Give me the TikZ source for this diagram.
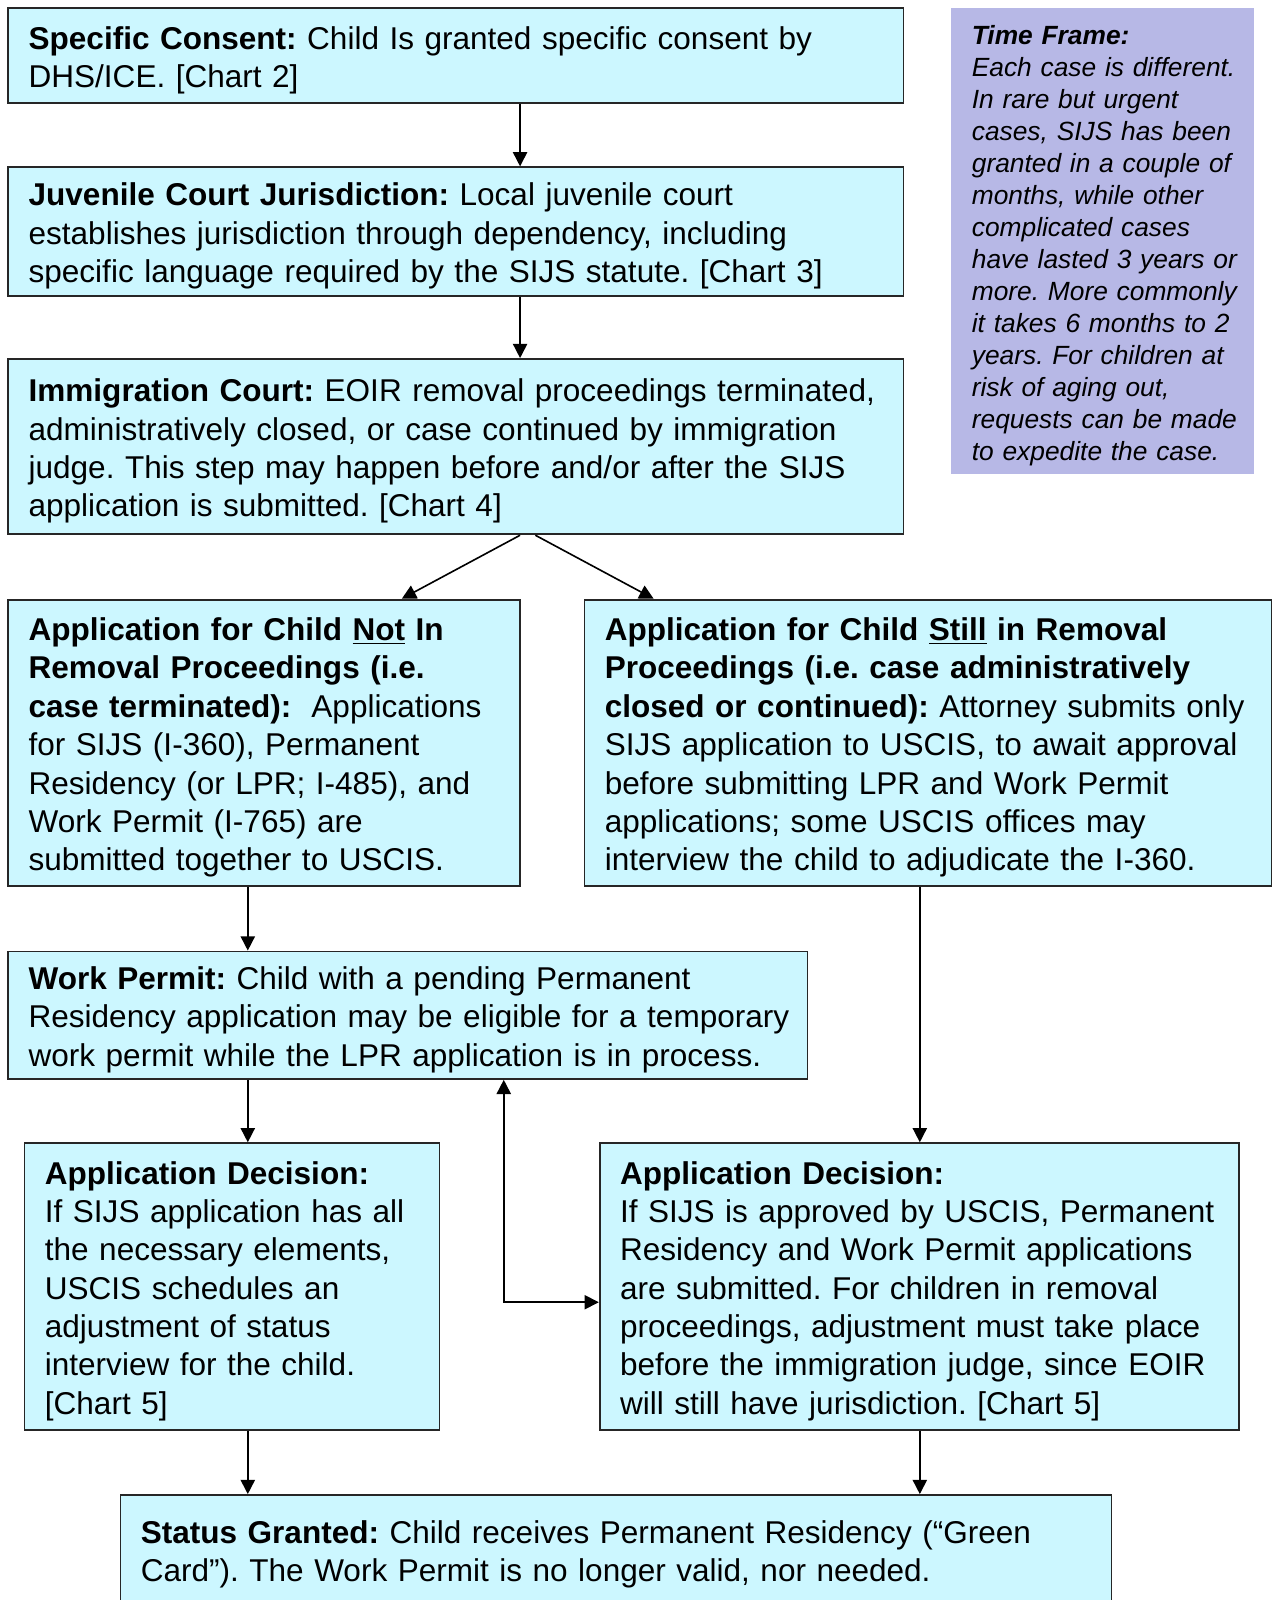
\documentclass[tikz,border=0pt]{standalone}
\usepackage{fontspec}
\setmainfont{Liberation Sans}
\usetikzlibrary{arrows.meta}
\definecolor{boxcyan}{RGB}{204,247,255}
\definecolor{tflilac}{RGB}{183,184,230}
\frenchspacing
\newcommand{\boxlines}[1]{\raisebox{-0.1cm}[\height][\depth]{\begin{tabular}{@{}l@{}}#1\end{tabular}}}

\begin{document}
\begin{tikzpicture}[x=0.02cm, y=-0.02cm,
  >={Triangle[width=0.28cm,length=0.28cm]},
  box/.style={draw=black!85, line width=1pt, fill=boxcyan, inner xsep=0.4cm, inner ysep=0pt,
    align=left, font=\fontsize{17.6}{21.4}\selectfont},
  arr/.style={->, line width=0.9pt}]
\useasboundingbox (0,0) rectangle (1253,1569);
% top column
\node[box, text width=16.76cm, minimum height=1.86cm] (sc) at (447,54.5)
  {\boxlines{\textbf{Specific Consent:} Child Is granted specific consent by\\
   DHS/ICE. [Chart 2]}};
\node[box, text width=16.76cm, minimum height=2.52cm] (jc) at (447,227)
  {\boxlines{\textbf{Juvenile Court Jurisdiction:} Local juvenile court\\
   establishes jurisdiction through dependency, including\\
   specific language required by the SIJS statute. [Chart 3]}};
\node[box, text width=16.76cm, minimum height=3.44cm] (ic) at (447,438)
  {\boxlines{\textbf{Immigration Court:} EOIR removal proceedings terminated,\\
   administratively closed, or case continued by immigration\\
   judge. This step may happen before and/or after the SIJS\\
   application is submitted. [Chart 4]}};
\node[box, draw=none, fill=tflilac, text width=5.14cm, minimum height=9.14cm,
  font=\fontsize{14.7}{17.85}\selectfont\itshape] (tf) at (1081.5,236.5)
  {\boxlines{\textbf{Time Frame:}\\
   Each case is different.\\
   In rare but urgent\\
   cases, SIJS has been\\
   granted in a couple of\\
   months, while other\\
   complicated cases\\
   have lasted 3 years or\\
   more. More commonly\\
   it takes 6 months to 2\\
   years. For children at\\
   risk of aging out,\\
   requests can be made\\
   to expedite the case.}};
% two branches
\node[box, text width=9.24cm, minimum height=5.62cm] (an) at (259,728.5)
  {\boxlines{\textbf{Application for Child \underline{Not} In}\\
   \textbf{Removal Proceedings (i.e.}\\
   \textbf{case terminated):}\hspace{0.3em} Applications\\
   for SIJS (I-360), Permanent\\
   Residency (or LPR; I-485), and\\
   Work Permit (I-765) are\\
   submitted together to USCIS.}};
\node[box, text width=12.68cm, minimum height=5.62cm] (as) at (910,728.5)
  {\boxlines{\textbf{Application for Child \underline{Still} in Removal}\\
   \textbf{Proceedings (i.e. case administratively}\\
   \textbf{closed or continued):} Attorney submits only\\
   SIJS application to USCIS, to await approval\\
   before submitting LPR and Work Permit\\
   applications; some USCIS offices may\\
   interview the child to adjudicate the I-360.}};
\node[box, text width=14.88cm, minimum height=2.5cm] (wp) at (400,995.5)
  {\boxlines{\textbf{Work Permit:} Child with a pending Permanent\\
   Residency application may be eligible for a temporary\\
   work permit while the LPR application is in process.}};
\node[box, text width=7.34cm, minimum height=5.62cm] (dn) at (227.5,1261.5)
  {\boxlines{\textbf{Application Decision:}\\
   If SIJS application has all\\
   the necessary elements,\\
   USCIS schedules an\\
   adjustment of status\\
   interview for the child.\\
   {[Chart 5]}}};
\node[box, text width=11.74cm, minimum height=5.62cm] (ds) at (901.5,1261.5)
  {\boxlines{\textbf{Application Decision:}\\
   If SIJS is approved by USCIS, Permanent\\
   Residency and Work Permit applications\\
   are submitted. For children in removal\\
   proceedings, adjustment must take place\\
   before the immigration judge, since EOIR\\
   will still have jurisdiction. [Chart 5]}};
\node[box, text width=18.64cm, minimum height=2.16cm] (sg) at (604,1520)
  {\boxlines{\textbf{Status Granted:} Child receives Permanent Residency (“Green\\
   Card”). The Work Permit is no longer valid, nor needed.}};
% connectors
\coordinate (mx) at (510,0);
\coordinate (mr) at (525,0);
\coordinate (lx) at (394,0);
\coordinate (rx) at (641,0);
\coordinate (lc) at (243,0);
\coordinate (rc) at (902,0);
\coordinate (ex) at (494,0);
\draw[arr] (sc.south -| mx) -- (jc.north -| mx);
\draw[arr] (jc.south -| mx) -- (ic.north -| mx);
\draw[arr] (ic.south -| mx) -- (an.north -| lx);
\draw[arr] (ic.south -| mr) -- (as.north -| rx);
\draw[arr] (an.south -| lc) -- (wp.north -| lc);
\draw[arr] (wp.south -| lc) -- (dn.north -| lc);
\draw[arr] (as.south -| rc) -- (ds.north -| rc);
\draw[arr] (dn.south -| lc) -- (sg.north -| lc);
\draw[arr] (ds.south -| rc) -- (sg.north -| rc);
\draw[arr, <->] (wp.south -| ex) |- ([yshift=-0.31cm]ds.west);
\end{tikzpicture}
\end{document}
